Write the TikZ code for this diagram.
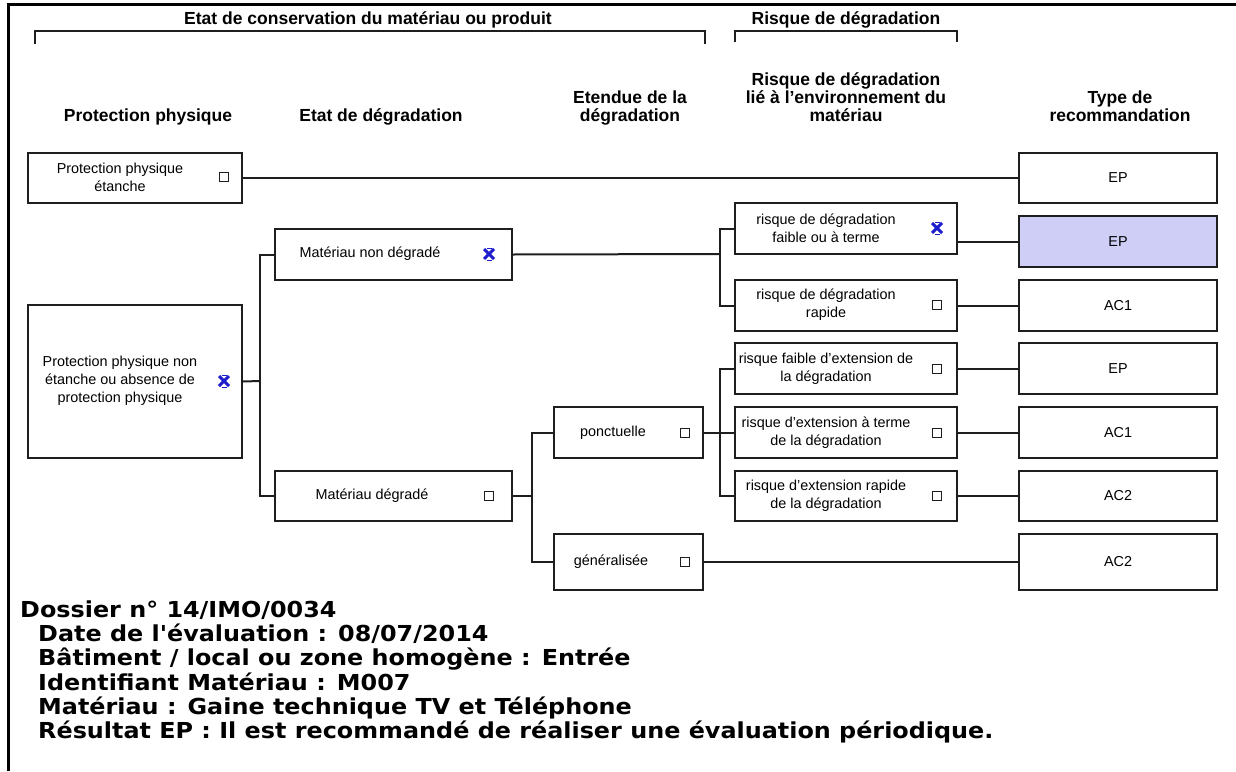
\documentclass[tikz,border=0pt]{standalone}
\usepackage{fontspec}
\setmainfont{Liberation Sans}
\newfontfamily\verdfont[FakeStretch=1.085]{DejaVu Sans}
\usetikzlibrary{fit}
\definecolor{lav}{RGB}{206,206,246}
\definecolor{xblue}{RGB}{30,30,205}
\definecolor{ink}{RGB}{30,30,30}
\begin{document}
\begin{tikzpicture}[x=1pt,y=-1pt,
  box/.style={draw=ink, line width=2pt, inner sep=0pt},
  conn/.style={draw=ink, line width=2pt},
  brk/.style={draw=ink, line width=2pt},
  hdr/.style={font=\bfseries\fontsize{17.5}{18}\selectfont, align=center, inner sep=0pt},
  txt/.style={font=\fontsize{14.4}{18}\selectfont, align=center, inner sep=0pt},
  res/.style={font=\fontsize{14.4}{17}\selectfont, inner sep=0pt},
  cbox/.style={draw=ink, line width=1pt, minimum size=9pt, inner sep=0pt},
  xmark/.style={minimum width=13pt, minimum height=13pt, inner sep=0pt,
    path picture={
      \draw[xblue, line width=3pt]
        ([shift={(1.5pt,-1.5pt)}]path picture bounding box.north west) -- ([shift={(-1.5pt,1.5pt)}]path picture bounding box.south east)
        ([shift={(-1.5pt,-1.5pt)}]path picture bounding box.north east) -- ([shift={(1.5pt,1.5pt)}]path picture bounding box.south west);
      \draw[xblue, line width=0.9pt]
        ([shift={(4pt,-0.5pt)}]path picture bounding box.north west) -- ([shift={(-4pt,-0.5pt)}]path picture bounding box.north east)
        ([shift={(4pt,0.5pt)}]path picture bounding box.south west) -- ([shift={(-4pt,0.5pt)}]path picture bounding box.south east);
    }},
  info/.style={font=\verdfont\bfseries\fontsize{22}{24}\selectfont, inner sep=0pt, anchor=base west}
]
\useasboundingbox (0,0) rectangle (1236,771);
% frame
\coordinate (fr0) at (8,771);
\coordinate (fr1) at (8,4.5);
\coordinate (fr2) at (1236,4.5);
\draw[black, line width=3pt] (fr0) -- (fr1) -- (fr2);

% top headers and brackets
\node[hdr, anchor=base] (h1) at (368,24) {Etat de conservation du matériau ou produit};
\coordinate (b1a) at (35,44); \coordinate (b1b) at (35,31);
\coordinate (b1c) at (705,31); \coordinate (b1d) at (705,44);
\draw[brk] (b1a) -- (b1b) -- (b1c) -- (b1d);
\node[hdr, anchor=base] (h2) at (846,24) {Risque de dégradation};
\coordinate (b2a) at (735,42); \coordinate (b2b) at (735,31);
\coordinate (b2c) at (957,31); \coordinate (b2d) at (957,42);
\draw[brk] (b2a) -- (b2b) -- (b2c) -- (b2d);

% column headers (base = baseline of last line)
\node[hdr, anchor=base] (c1) at (148,121) {Protection physique};
\node[hdr, anchor=base] (c2) at (381,121) {Etat de dégradation};
\node[hdr, anchor=base] (c3) at (630,121) {Etendue de la\\dégradation};
\node[hdr, anchor=base] (c4) at (846,121) {Risque de dégradation\\lié à l'environnement du\\matériau};
\node[hdr, anchor=base] (c5) at (1120,121) {Type de\\recommandation};

% column 1
\node[box, fit={(28,153) (242,203)}] (A) {};
\node[txt] (At) at (120,177) {Protection physique\\étanche};
\node[cbox] (Ac) at (224,177) {};
\node[box, fit={(28,305) (242,458)}] (B) {};
\node[txt] (Bt) at (120,381) {Protection physique non\\étanche ou absence de\\protection physique};
\node[xmark] (Bx) at (224,381) {};

% column 2
\node[box, fit={(275,229) (512,280)}] (C) {};
\node[txt] (Ct) at (370,254) {Matériau non dégradé};
\node[xmark] (Cx) at (489,254) {};
\node[box, fit={(275,471) (512,521)}] (D) {};
\node[txt] (Dt) at (372,496) {Matériau dégradé};
\node[cbox] (Dc) at (489,496) {};

% column 3
\node[box, fit={(554,407) (703,458)}] (E) {};
\node[txt] (Et) at (613,433) {ponctuelle};
\node[cbox] (Ec) at (685,433) {};
\node[box, fit={(554,534) (703,590)}] (F) {};
\node[txt] (Ft) at (611,562) {généralisée};
\node[cbox] (Fc) at (685,562) {};

% column 4
\node[box, fit={(735,203) (957,254)}] (G1) {};
\node[txt] (G1t) at (826,228) {risque de dégradation\\faible ou à terme};
\node[xmark] (G1x) at (937,228) {};
\node[box, fit={(735,280) (957,331)}] (G2) {};
\node[txt] (G2t) at (826,305) {risque de dégradation\\rapide};
\node[cbox] (G2c) at (937,305) {};
\node[box, fit={(735,343) (957,394)}] (G3) {};
\node[txt] (G3t) at (826,369) {risque faible d'extension de\\la dégradation};
\node[cbox] (G3c) at (937,369) {};
\node[box, fit={(735,407) (957,458)}] (G4) {};
\node[txt] (G4t) at (826,433) {risque d'extension à terme\\de la dégradation};
\node[cbox] (G4c) at (937,433) {};
\node[box, fit={(735,471) (957,521)}] (G5) {};
\node[txt] (G5t) at (826,496) {risque d'extension rapide\\de la dégradation};
\node[cbox] (G5c) at (937,496) {};

% column 5
\node[box, fit={(1019,153) (1217,203)}] (R1) {};
\node[res] at (R1.center) {EP};
\node[box, fill=lav, fit={(1019,216) (1217,267)}] (R2) {};
\node[res] at (R2.center) {EP};
\node[box, fit={(1019,280) (1217,331)}] (R3) {};
\node[res] at (R3.center) {AC1};
\node[box, fit={(1019,343) (1217,394)}] (R4) {};
\node[res] at (R4.center) {EP};
\node[box, fit={(1019,407) (1217,458)}] (R5) {};
\node[res] at (R5.center) {AC1};
\node[box, fit={(1019,471) (1217,521)}] (R6) {};
\node[res] at (R6.center) {AC2};
\node[box, fit={(1019,534) (1217,590)}] (R7) {};
\node[res] at (R7.center) {AC2};

% connectors
\draw[conn] (A.east) -- (R1.west);
\coordinate (jB) at (260,381);
\draw[conn] (B.east) -- (jB);
\draw[conn] (C.west) -| (jB) |- (D.west);
\coordinate (jC) at (720,254);
\draw[conn] (C.east) -- (jC);
\draw[conn] (G1.west) -| (jC) |- (G2.west);
\draw[conn] (G1.east |- R2.west) -- (R2.west);
\draw[conn] (G2.east) -- (R3.west);
\coordinate (jD) at (532,496);
\draw[conn] (D.east) -- (jD);
\draw[conn] (E.west) -| (jD) |- (F.west);
\coordinate (jE) at (720,433);
\draw[conn] (E.east) -- (G4.west);
\draw[conn] (G3.west) -| (jE) |- (G5.west);
\draw[conn] (G3.east) -- (R4.west);
\draw[conn] (G4.east) -- (R5.west);
\draw[conn] (G5.east) -- (R6.west);
\draw[conn] (F.east) -- (R7.west);

% bottom info
\node[info] (i1) at (20,617) {Dossier n° 14/IMO/0034};
\node[info] (i2) at (38,641) {Date de l'évaluation : 08/07/2014};
\node[info] (i3) at (38,665) {Bâtiment / local ou zone homogène : Entrée};
\node[info] (i4) at (38,690) {Identifiant Matériau : M007};
\node[info] (i5) at (38,714) {Matériau : Gaine technique TV et Téléphone};
\node[info] (i6) at (38,738) {Résultat EP : Il est recommandé de réaliser une évaluation périodique.};
\end{tikzpicture}
\end{document}
